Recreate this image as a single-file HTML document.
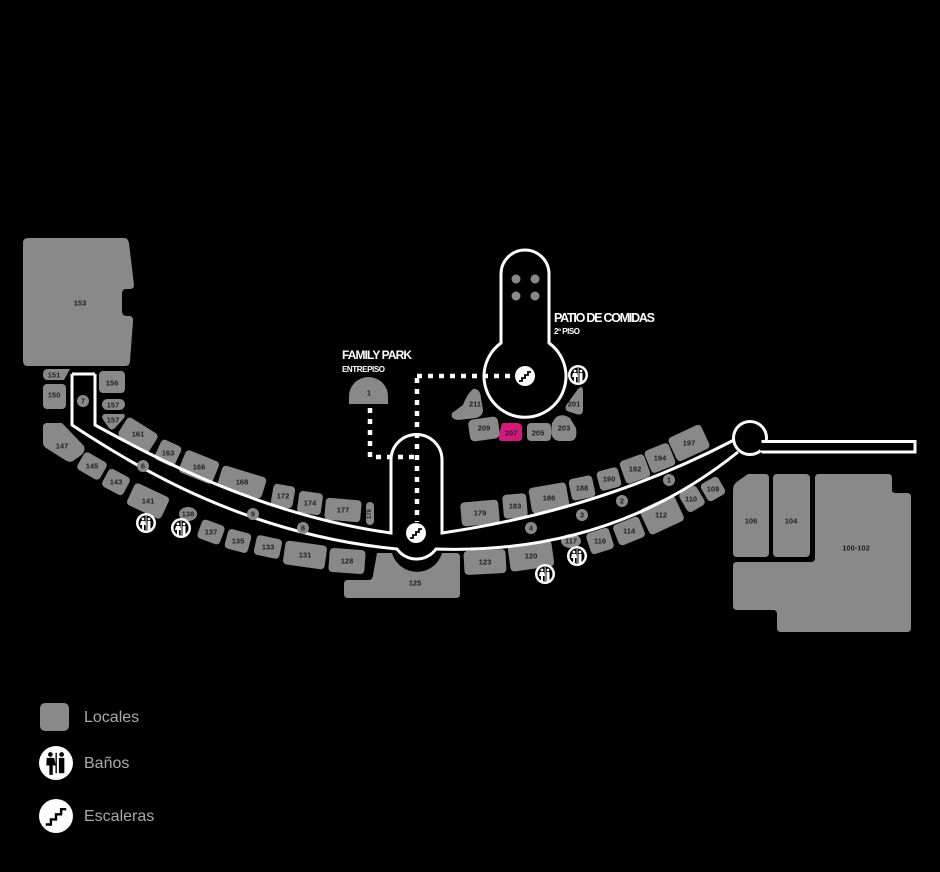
<!DOCTYPE html>
<html><head><meta charset="utf-8"><style>
html,body{margin:0;padding:0;background:#000;}
svg{display:block;}
.s{fill:#898989;}
.n{font-family:"Liberation Sans",sans-serif;font-size:7.5px;font-weight:bold;fill:#222;text-anchor:middle;dominant-baseline:central;}
.c{fill:#898989;}
.w{stroke:#fff;stroke-width:3;fill:none;}
.d{stroke:#fff;stroke-width:4.5;fill:none;stroke-dasharray:5 6;}
.lg{font-family:"Liberation Sans",sans-serif;font-size:16px;fill:#aaa;}
.t{font-family:"Liberation Sans",sans-serif;font-weight:bold;fill:#fff;}
</style></head><body>
<svg width="940" height="872" viewBox="0 0 940 872">
<defs>
<g id="wc"><circle r="10" fill="#fff"/><circle r="7.5" fill="#000"/>
<circle cx="-3" cy="-4" r="1.4" fill="#fff"/><path d="M-5,-2 h4 l1,4 h-2 v5 h-2 v-5 h-2z" fill="#fff"/>
<circle cx="3" cy="-4" r="1.4" fill="#fff"/><rect x="1.5" y="-2" width="3" height="9" fill="#fff"/><rect x="-0.3" y="-7" width="0.8" height="14" fill="#fff"/></g>
<g id="esc"><circle r="10" fill="#fff"/><path d="M-6,5 h3 v-3 h3 v-3 h3 v-3 h3" stroke="#000" stroke-width="1.8" fill="none"/></g>
</defs>

<!-- 153 -->
<path class="s" d="M28,238 H124 Q128,238 129,243 L134,285 Q134,289 130,289 H126 Q122,289 122,294 V311 Q122,316 127,316 H130 Q134,317 133,322 L130,361 Q130,366 125,366 H28 Q23,366 23,361 V243 Q23,238 28,238Z"/>
<text class="n" x="80" y="303">153</text>
<path class="s" d="M48,369 H70 L64,380 H48 Q43,380 43,374.5 Q43,369 48,369Z"/><text class="n" x="54" y="375">151</text>
<rect class="s" x="43" y="384" width="23" height="25" rx="4"/><text class="n" x="54" y="395">150</text>
<rect class="s" x="99" y="371" width="26" height="22" rx="4"/><text class="n" x="112" y="383">156</text>
<rect class="s" x="102" y="399" width="23" height="11" rx="5.5"/><text class="n" x="113" y="405">157</text>
<path class="s" d="M104,414 H123 Q126,414 124,418 L115,428 Q112,431 109,428 L104,421 Q102,418 102,416Z"/><text class="n" x="113" y="420">157</text>

<!-- upper left row -->
<g transform="translate(138,435) rotate(32)"><rect class="s" x="-18" y="-11" width="36" height="22" rx="4"/></g><text class="n" x="138" y="434">161</text>
<g transform="translate(168,453) rotate(25)"><rect class="s" x="-11" y="-11" width="22" height="22" rx="4"/></g><text class="n" x="168" y="453">163</text>
<g transform="translate(199,467) rotate(22)"><rect class="s" x="-18" y="-12" width="36" height="24" rx="4"/></g><text class="n" x="199" y="467">166</text>
<g transform="translate(242,482) rotate(17)"><rect class="s" x="-23" y="-11" width="46" height="22" rx="4"/></g><text class="n" x="242" y="482">168</text>
<g transform="translate(283,496) rotate(10)"><rect class="s" x="-11" y="-11" width="22" height="22" rx="4"/></g><text class="n" x="283" y="496">172</text>
<g transform="translate(310,503) rotate(8)"><rect class="s" x="-12" y="-11" width="24" height="22" rx="4"/></g><text class="n" x="310" y="503">174</text>
<g transform="translate(343,510) rotate(5)"><rect class="s" x="-18" y="-11" width="36" height="22" rx="4"/></g><text class="n" x="343" y="510">177</text>
<rect class="s" x="366" y="502" width="8" height="23" rx="4"/><text class="n" x="370" y="514" transform="rotate(-90 370 514)" style="font-size:6px">178</text>

<!-- lower left row -->
<path class="s" d="M47,423 H62 L84,446 Q86,452 80,456 L73,461 Q69,463 65,460 L46,448 Q43,446 43,442 V427 Q43,423 47,423Z"/><text class="n" x="62" y="446">147</text>
<g transform="translate(92,466) rotate(30)"><rect class="s" x="-13" y="-10" width="26" height="20" rx="4"/></g><text class="n" x="92" y="466">145</text>
<g transform="translate(116,482) rotate(28)"><rect class="s" x="-12" y="-10" width="24" height="20" rx="4"/></g><text class="n" x="116" y="482">143</text>
<g transform="translate(148,501) rotate(25)"><rect class="s" x="-19" y="-12" width="38" height="24" rx="4"/></g><text class="n" x="148" y="501">141</text>
<ellipse class="s" cx="188" cy="514" rx="9" ry="7"/><text class="n" x="188" y="514">138</text>
<g transform="translate(211,532) rotate(20)"><rect class="s" x="-12" y="-10" width="24" height="20" rx="4"/></g><text class="n" x="211" y="532">137</text>
<g transform="translate(238,541) rotate(15)"><rect class="s" x="-12" y="-10" width="24" height="20" rx="4"/></g><text class="n" x="238" y="541">135</text>
<g transform="translate(268,547) rotate(12)"><rect class="s" x="-13" y="-10" width="26" height="20" rx="4"/></g><text class="n" x="268" y="547">133</text>
<g transform="translate(305,555) rotate(8)"><rect class="s" x="-21" y="-12" width="42" height="24" rx="4"/></g><text class="n" x="305" y="555">131</text>
<g transform="translate(347,561) rotate(4)"><rect class="s" x="-18" y="-12" width="36" height="24" rx="4"/></g><text class="n" x="347" y="561">128</text>

<!-- 125 -->
<path class="s" d="M377,553 H392 A26,26 0 0 0 442,553 H456 Q460,553 460,557 V594 Q460,598 456,598 H348 Q344,598 344,594 V584 Q344,580 348,580 H368 Q373,580 373,575 Z"/>
<text class="n" x="415" y="583">125</text>

<!-- lower right row -->
<g transform="translate(485,562) rotate(-3)"><rect class="s" x="-21" y="-12" width="42" height="24" rx="4"/></g><text class="n" x="485" y="562">123</text>
<g transform="translate(531,556) rotate(-8)"><rect class="s" x="-22" y="-13" width="44" height="26" rx="4"/></g><text class="n" x="531" y="556">120</text>
<ellipse class="s" cx="571" cy="541" rx="10" ry="7"/><text class="n" x="571" y="541">117</text>
<g transform="translate(600,541) rotate(-18)"><rect class="s" x="-12" y="-11" width="24" height="22" rx="4"/></g><text class="n" x="600" y="541">116</text>
<g transform="translate(629,531) rotate(-22)"><rect class="s" x="-14" y="-11" width="28" height="22" rx="4"/></g><text class="n" x="629" y="531">114</text>
<g transform="translate(662,515) rotate(-25)"><rect class="s" x="-19" y="-14" width="38" height="28" rx="4"/></g><text class="n" x="661" y="515">112</text>
<g transform="translate(692,499) rotate(-30)"><rect class="s" x="-10" y="-11" width="20" height="22" rx="4"/></g><text class="n" x="691" y="499">110</text>
<g transform="translate(713,489) rotate(-30)"><rect class="s" x="-10" y="-10" width="20" height="20" rx="4"/></g><text class="n" x="713" y="489">109</text>

<!-- upper right row -->
<g transform="translate(480,513) rotate(-5)"><rect class="s" x="-19" y="-12" width="38" height="24" rx="4"/></g><text class="n" x="480" y="513">179</text>
<g transform="translate(515,506) rotate(-5)"><rect class="s" x="-12" y="-12" width="24" height="24" rx="4"/></g><text class="n" x="515" y="506">183</text>
<g transform="translate(549,498) rotate(-10)"><rect class="s" x="-19" y="-13" width="38" height="26" rx="4"/></g><text class="n" x="549" y="498">186</text>
<g transform="translate(582,488) rotate(-12)"><rect class="s" x="-12" y="-11" width="24" height="22" rx="4"/></g><text class="n" x="582" y="488">188</text>
<g transform="translate(609,479) rotate(-15)"><rect class="s" x="-11" y="-10" width="22" height="20" rx="4"/></g><text class="n" x="609" y="479">190</text>
<g transform="translate(635,469) rotate(-20)"><rect class="s" x="-13" y="-12" width="26" height="24" rx="4"/></g><text class="n" x="635" y="469">192</text>
<g transform="translate(660,458) rotate(-22)"><rect class="s" x="-13" y="-12" width="26" height="24" rx="4"/></g><text class="n" x="660" y="458">194</text>
<g transform="translate(689,443) rotate(-25)"><rect class="s" x="-18" y="-13" width="36" height="26" rx="4"/></g><text class="n" x="689" y="443">197</text>

<!-- 1 -->
<path class="s" d="M349,404 V396 A19.5,19 0 0 1 388,396 V404 Z"/><text class="n" x="369" y="393">1</text>

<!-- right anchor stores -->
<path class="s" d="M748,474 H765 Q769,474 769,478 V553 Q769,557 765,557 H737 Q733,557 733,553 V490 Q733,484 738,481Z"/><text class="n" x="751" y="521">106</text>
<rect class="s" x="773" y="474" width="37" height="83" rx="4"/><text class="n" x="791" y="521">104</text>
<path class="s" d="M819,474 H888 Q892,474 892,478 V490 Q892,493 896,493 H907 Q911,493 911,497 V628 Q911,632 907,632 H781 Q777,632 777,628 V614 Q777,610 773,610 H737 Q733,610 733,606 V566 Q733,562 737,562 H811 Q815,562 815,558 V478 Q815,474 819,474Z"/>
<text class="n" x="856" y="548">100-102</text>

<!-- corridors -->
<path class="w" d="M72,374 V425 C140,470 250,535 397,549 A24,24 0 0 0 436,549 Q610,555 738,452"/>
<path class="w" d="M72,374 H95"/>
<path class="w" d="M95,374 V425 C150,455 260,515 391,533 V460 A25.5,25.5 0 0 1 442,460 V533 Q600,510 734,440"/>
<circle cx="750" cy="438" r="16.5" stroke="#fff" stroke-width="3" fill="#000"/>
<rect x="763" y="441.5" width="152" height="10.5" stroke="#fff" stroke-width="3" fill="#000"/>
<rect x="760" y="443" width="8" height="7.5" fill="#000"/>

<!-- food court keyhole -->
<path class="w" d="M501,343 V274 A24,24 0 0 1 549,274 V343 A41,41 0 1 1 501,343Z" fill="#000"/>
<circle cx="516" cy="279" r="4.5" fill="#898989"/><circle cx="535" cy="279" r="4.5" fill="#898989"/>
<circle cx="516" cy="296" r="4.5" fill="#898989"/><circle cx="535" cy="296" r="4.5" fill="#898989"/>

<!-- food court units -->
<path class="s" d="M473,389 Q480,388 481,398 L483,410 Q483,416 476,418 L458,420 Q450,419 452,413 L463,405 Q467,394 473,389Z"/><text class="n" x="475" y="404">211</text>
<g transform="translate(484,429) rotate(-8)"><rect class="s" x="-15" y="-11" width="30" height="22" rx="5"/></g><text class="n" x="484" y="428">209</text>
<path d="M503,423 H517 Q522,423 522,428 V438 Q522,441 518,441 H502 Q498,441 499,437 L501,426 Q502,423 503,423Z" fill="#d5197c"/><text class="n" x="511" y="433">207</text>
<rect class="s" x="527" y="423" width="24" height="18" rx="4"/><text class="n" x="538" y="433">205</text>
<path class="s" d="M556,417 Q563,413 570,418 L576,428 Q578,441 570,441 H560 Q553,441 551,433 L552,423Z"/><text class="n" x="564" y="428">203</text>
<path class="s" d="M578,389 Q583,384 583,392 V410 Q583,416 576,414 L567,411 Q564,408 567,404 Z"/><text class="n" x="574" y="404">201</text>

<!-- dotted paths -->
<path class="d" d="M417,376 H515"/>
<path class="d" d="M417,378 V522"/>
<path class="d" d="M370,408 V457 H414"/>

<!-- numbered markers -->
<g class="n">
<circle class="c" cx="83" cy="401" r="6"/><text x="83" y="401">7</text>
<circle class="c" cx="143" cy="466" r="6"/><text x="143" y="466">6</text>
<circle class="c" cx="253" cy="514" r="6"/><text x="253" y="514">9</text>
<circle class="c" cx="303" cy="528" r="6"/><text x="303" y="528">8</text>
<circle class="c" cx="531" cy="528" r="6"/><text x="531" y="528">4</text>
<circle class="c" cx="582" cy="515" r="6"/><text x="582" y="515">3</text>
<circle class="c" cx="622" cy="501" r="6"/><text x="622" y="501">2</text>
<circle class="c" cx="669" cy="480" r="6"/><text x="669" y="480">1</text>
</g>

<!-- icons -->
<use href="#esc" x="416" y="533"/>
<use href="#esc" x="525" y="376"/>
<use href="#wc" x="146" y="523"/>
<use href="#wc" x="181" y="528"/>
<use href="#wc" x="578" y="375"/>
<use href="#wc" x="545" y="574"/>
<use href="#wc" x="577" y="556"/>

<!-- labels -->
<text class="t" x="342" y="359" style="font-size:12px" textLength="70">FAMILY PARK</text>
<text class="t" x="342" y="372" style="font-size:8px" textLength="43">ENTREPISO</text>
<text class="t" x="554" y="322" style="font-size:12.5px" textLength="101">PATIO DE COMIDAS</text>
<text class="t" x="554" y="334" style="font-size:8px" textLength="26">2º PISO</text>

<!-- legend -->
<rect x="40" y="703" width="29" height="28" rx="5" fill="#898989"/>
<text class="lg" x="84" y="722">Locales</text>
<g transform="translate(56,763) scale(1.7)"><circle r="10" fill="#fff"/>
<circle cx="-3.3" cy="-5" r="1.4" fill="#000"/><path d="M-5.5,-3 h4.4 l1,4.5 h-1.8 v5.5 h-2 v-5.5 h-1.8z" fill="#000"/>
<rect x="-0.3" y="-6" width="0.8" height="12" fill="#000"/>
<circle cx="3.3" cy="-5" r="1.4" fill="#000"/><rect x="1.7" y="-3" width="3.2" height="9" fill="#000"/></g>
<text class="lg" x="84" y="768">Baños</text>
<g transform="translate(56,816) scale(1.7)"><circle r="10" fill="#fff"/><path d="M-6,5 h3 v-3 h3 v-3 h3 v-3 h3" stroke="#000" stroke-width="1.4" fill="none"/></g>
<text class="lg" x="84" y="821">Escaleras</text>
</svg>
</body></html>
